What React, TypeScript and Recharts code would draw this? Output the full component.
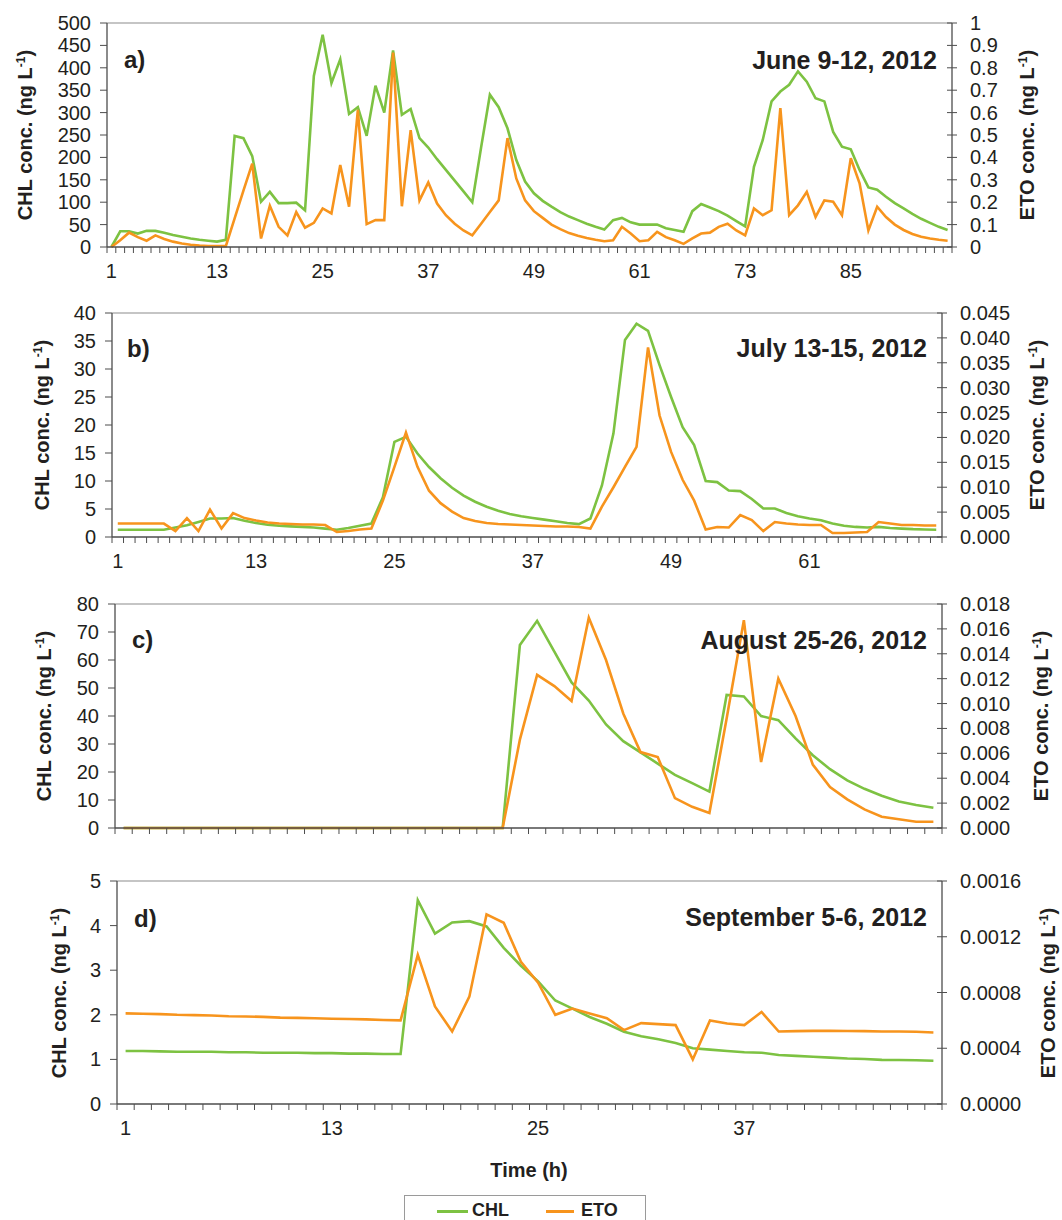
import React from "react"
import { ComposedChart, Line, XAxis, YAxis, ReferenceLine } from "recharts"

// ─── Colours / fonts ──────────────────────────────────────────────────────────
const GREEN = "#7dc242"
const ORANGE = "#f7941d"
const AXIS = "#4d4d4d"
const FRAME = "#8c8c8c"
const INK = "#231f20"
const FONT = '"Liberation Sans", Arial, Helvetica, sans-serif'

// ─── a) June 9-12, 2012 (96 h) ────────────────────────────────────────────────
const A_CHL = [
  0, 35, 35, 30, 36, 36, 32, 27, 23, 19,
  16, 14, 12, 16, 248, 243, 203, 101, 123, 98,
  98, 99, 82, 382, 474, 366, 419, 297, 312, 248,
  360, 300, 439, 295, 308, 243, 222, 196, 172, 148,
  124, 100, 222, 340, 312, 265, 194, 146, 120, 103,
  90, 78, 68, 60, 52, 45, 39, 60, 65, 55,
  50, 50, 50, 42, 38, 34, 80, 96, 88, 80,
  70, 58, 46, 179, 239, 325, 347, 362, 392, 369,
  332, 325, 257, 224, 218, 172, 133, 128, 112, 98,
  86, 74, 63, 54, 45, 38,
]
const A_ETO = [
  0, 0.03, 0.064, 0.044, 0.028, 0.052, 0.036, 0.024, 0.016, 0.01,
  0.006, 0.004, 0.004, 0.004, 0.128, 0.252, 0.372, 0.038, 0.184, 0.09,
  0.052, 0.156, 0.086, 0.108, 0.172, 0.15, 0.366, 0.18, 0.612, 0.102,
  0.12, 0.12, 0.868, 0.182, 0.522, 0.208, 0.288, 0.194, 0.142, 0.104,
  0.074, 0.052, 0.104, 0.156, 0.208, 0.486, 0.306, 0.208, 0.16, 0.13,
  0.1, 0.08, 0.062, 0.05, 0.04, 0.032, 0.026, 0.03, 0.09, 0.06,
  0.026, 0.03, 0.068, 0.044, 0.03, 0.014, 0.038, 0.06, 0.064, 0.09,
  0.104, 0.074, 0.052, 0.172, 0.142, 0.164, 0.62, 0.142, 0.186, 0.246,
  0.134, 0.208, 0.202, 0.142, 0.396, 0.284, 0.074, 0.18, 0.134, 0.1,
  0.076, 0.058, 0.046, 0.038, 0.032, 0.028,
]
const A_L_LABELS = ["0", "50", "100", "150", "200", "250", "300", "350", "400", "450", "500"]
const A_R_LABELS = ["0", "0.1", "0.2", "0.3", "0.4", "0.5", "0.6", "0.7", "0.8", "0.9", "1"]
const A_X_LABELS = [1, 13, 25, 37, 49, 61, 73, 85]

// ─── b) July 13-15, 2012 (72 h) ───────────────────────────────────────────────
const B_CHL = [
  1.3, 1.3, 1.3, 1.3, 1.3, 1.7, 2.1, 2.7, 3.3, 3.3,
  3.4, 2.9, 2.5, 2.2, 2.0, 1.9, 1.8, 1.7, 1.5, 1.3,
  1.6, 2.0, 2.4, 7.1, 17, 17.9, 14.9, 12.5, 10.5, 8.8,
  7.4, 6.3, 5.4, 4.7, 4.1, 3.7, 3.4, 3.1, 2.8, 2.5,
  2.3, 3.3, 9.2, 18.5, 35.2, 38.1, 36.8, 30.7, 25, 19.6,
  16.4, 10, 9.8, 8.3, 8.2, 6.8, 5.1, 5.1, 4.3, 3.7,
  3.3, 3.0, 2.4, 2.0, 1.8, 1.7, 1.8, 1.6, 1.5, 1.4,
  1.35, 1.3,
]
const B_ETO = [
  0.0027, 0.0027, 0.0027, 0.0027, 0.0027, 0.0012, 0.0038, 0.0012, 0.0055, 0.0017,
  0.0048, 0.0038, 0.0033, 0.0029, 0.0027, 0.0026, 0.0025, 0.0025, 0.0024, 0.001,
  0.0012, 0.0015, 0.0017, 0.0073, 0.0141, 0.021, 0.0141, 0.0093, 0.0068, 0.0051,
  0.0038, 0.0032, 0.0028, 0.0026, 0.0025, 0.0024, 0.0023, 0.0022, 0.0021, 0.0021,
  0.002, 0.0017, 0.0061, 0.01, 0.0141, 0.0181, 0.0381, 0.0244, 0.0171, 0.0115,
  0.0073, 0.0015, 0.002, 0.0019, 0.0044, 0.0034, 0.0012, 0.003, 0.0027, 0.0025,
  0.0024, 0.0024, 0.0008, 0.0008, 0.0009, 0.001, 0.003, 0.0027, 0.0024, 0.0024,
  0.0023, 0.0023,
]
const B_L_LABELS = ["0", "5", "10", "15", "20", "25", "30", "35", "40"]
const B_R_LABELS = ["0.000", "0.005", "0.010", "0.015", "0.020", "0.025", "0.030", "0.035", "0.040", "0.045"]
const B_X_LABELS = [1, 13, 25, 37, 49, 61]

// ─── c) August 25-26, 2012 (48 h) ─────────────────────────────────────────────
const C_CHL = [
  0, 0, 0, 0, 0, 0, 0, 0, 0, 0,
  0, 0, 0, 0, 0, 0, 0, 0, 0, 0,
  0, 0, 0, 65.4, 74, 63, 52, 45.5, 37, 31,
  27, 23, 19, 16, 13, 47.5, 47, 40, 38.5, 32,
  26, 21, 17, 14, 11.5, 9.5, 8.2, 7.2,
]
const C_ETO = [
  0, 0, 0, 0, 0, 0, 0, 0, 0, 0,
  0, 0, 0, 0, 0, 0, 0, 0, 0, 0,
  0, 0, 0, 0.0071, 0.0123, 0.0114, 0.0102, 0.0169, 0.0135, 0.0092,
  0.0061, 0.0057, 0.0024, 0.0017, 0.0012, 0.0088, 0.0167, 0.0053, 0.012, 0.009,
  0.0051, 0.0033, 0.0023, 0.0015, 0.0009, 0.0007, 0.0005, 0.0005,
]
const C_L_LABELS = ["0", "10", "20", "30", "40", "50", "60", "70", "80"]
const C_R_LABELS = ["0.000", "0.002", "0.004", "0.006", "0.008", "0.010", "0.012", "0.014", "0.016", "0.018"]
const C_X_LABELS: number[] = []

// ─── d) September 5-6, 2012 (48 h) ────────────────────────────────────────────
const D_CHL = [
  1.19, 1.19, 1.18, 1.17, 1.17, 1.17, 1.16, 1.16, 1.15, 1.15,
  1.15, 1.14, 1.14, 1.13, 1.13, 1.12, 1.12, 4.57, 3.82, 4.07,
  4.1, 3.98, 3.5, 3.1, 2.75, 2.32, 2.14, 1.95, 1.8, 1.62,
  1.52, 1.45, 1.37, 1.25, 1.22, 1.19, 1.16, 1.15, 1.1, 1.08,
  1.06, 1.04, 1.02, 1.01, 0.99, 0.985, 0.98, 0.97,
]
const D_ETO = [
  0.00065, 0.000648, 0.000645, 0.00064, 0.000638, 0.000635, 0.00063, 0.000628, 0.000625, 0.00062,
  0.000618, 0.000615, 0.000612, 0.00061, 0.000607, 0.000603, 0.0006, 0.00107, 0.0007, 0.00052,
  0.00077, 0.00136, 0.0013, 0.00102, 0.00087, 0.00064, 0.000685, 0.00065, 0.000615, 0.00053,
  0.00058, 0.000573, 0.000566, 0.00032, 0.0006, 0.000578, 0.000566, 0.00066, 0.00052, 0.000523,
  0.000525, 0.000525, 0.000524, 0.000523, 0.00052, 0.00052, 0.000518, 0.000513,
]
const D_L_LABELS = ["0", "1", "2", "3", "4", "5"]
const D_R_LABELS = ["0.0000", "0.0004", "0.0008", "0.0012", "0.0016"]
const D_X_LABELS = [1, 13, 25, 37]

// ─── Panel layout (page px) ───────────────────────────────────────────────────
const PANELS = [
  { tag: "a)", title: "June 9-12, 2012", chl: A_CHL, eto: A_ETO, lLab: A_L_LABELS, rLab: A_R_LABELS, xLab: A_X_LABELS,
    top: 0, plotTop: 23, plotBottom: 247, left: 107, right: 952, lTitleX: 25, rTitleX: 1027, tagX: 124, tagY: 60, titleY: 60 },
  { tag: "b)", title: "July 13-15, 2012", chl: B_CHL, eto: B_ETO, lLab: B_L_LABELS, rLab: B_R_LABELS, xLab: B_X_LABELS,
    top: 290, plotTop: 23, plotBottom: 247, left: 112, right: 942, lTitleX: 42, rTitleX: 1037, tagX: 127, tagY: 59, titleY: 58 },
  { tag: "c)", title: "August 25-26, 2012", chl: C_CHL, eto: C_ETO, lLab: C_L_LABELS, rLab: C_R_LABELS, xLab: C_X_LABELS,
    top: 580, plotTop: 24, plotBottom: 248, left: 115, right: 942, lTitleX: 44, rTitleX: 1041, tagX: 132, tagY: 60, titleY: 60 },
  { tag: "d)", title: "September 5-6, 2012", chl: D_CHL, eto: D_ETO, lLab: D_L_LABELS, rLab: D_R_LABELS, xLab: D_X_LABELS,
    top: 858, plotTop: 23, plotBottom: 246, left: 117, right: 942, lTitleX: 59, rTitleX: 1048, tagX: 134, tagY: 61, titleY: 59 },
]

const W = 1062
const H = 290
const AXW = 60
const XH = 30

function findLabel(labels: string[], v: number) {
  const l = labels.find((s) => Math.abs(Number(s) - v) < 1e-12)
  return l ?? ""
}

function PanelChart({ p }: { p: (typeof PANELS)[number] }) {
  const n = p.chl.length
  const data = p.chl.map((v, i) => ({ h: i + 1, chl: v, eto: p.eto[i] }))
  // tick marks sit between hours, labels on the hours
  const bounds: number[] = []
  for (let i = 0; i <= n; i++) bounds.push(i + 0.5)
  const xTicks = [...bounds, ...p.xLab]
  const lTicks = p.lLab.map(Number)
  const rTicks = p.rLab.map(Number)
  const lMax = lTicks[lTicks.length - 1]
  const rMax = rTicks[rTicks.length - 1]
  const cy = (p.plotTop + p.plotBottom) / 2

  const xTick = (props: any) => {
    const { x, y, payload } = props
    const v = payload.value
    if (Number.isInteger(v)) {
      return (
        <text x={x} y={y + 24} textAnchor="middle" dominantBaseline="central"
          fontSize={20} fill={INK} fontFamily={FONT}>{v}</text>
      )
    }
    return <line x1={x} x2={x} y1={y} y2={y + 6} stroke={AXIS} strokeWidth={1} />
  }
  const lTick = (props: any) => {
    const { x, y, payload } = props
    return (
      <g>
        <line x1={x - 7} x2={x} y1={y} y2={y} stroke={AXIS} strokeWidth={1} />
        <text x={x - 16} y={y} textAnchor="end" dominantBaseline="central"
          fontSize={20} fill={INK} fontFamily={FONT}>{findLabel(p.lLab, payload.value)}</text>
      </g>
    )
  }
  const rTick = (props: any) => {
    const { x, y, payload } = props
    return (
      <g>
        <line x1={x - 5} x2={x + 5} y1={y} y2={y} stroke={AXIS} strokeWidth={1} />
        <text x={x + 18} y={y} textAnchor="start" dominantBaseline="central"
          fontSize={20} fill={INK} fontFamily={FONT}>{findLabel(p.rLab, payload.value)}</text>
      </g>
    )
  }

  return (
    <div style={{ position: "absolute", left: 0, top: p.top, width: W, height: H }}>
      <ComposedChart
        width={W}
        height={H}
        data={data}
        margin={{ top: p.plotTop, bottom: H - p.plotBottom - XH, left: p.left - AXW, right: W - p.right - AXW }}
      >
        <XAxis dataKey="h" type="number" domain={[0.5, n + 0.5]} ticks={xTicks} interval={0}
          height={XH} tickSize={0} tickMargin={0} tickLine={false} tick={xTick}
          axisLine={{ stroke: AXIS, strokeWidth: 1.3 }} allowDataOverflow />
        <YAxis yAxisId="l" domain={[0, lMax]} ticks={lTicks} interval={0} width={AXW}
          tickSize={0} tickMargin={0} tickLine={false} tick={lTick}
          axisLine={{ stroke: AXIS, strokeWidth: 1.3 }} />
        <YAxis yAxisId="r" orientation="right" domain={[0, rMax]} ticks={rTicks} interval={0} width={AXW}
          tickSize={0} tickMargin={0} tickLine={false} tick={rTick}
          axisLine={{ stroke: AXIS, strokeWidth: 1.3 }} />
        <ReferenceLine yAxisId="l" y={lMax} stroke={FRAME} strokeWidth={1.2} />
        <Line yAxisId="l" type="linear" dataKey="chl" stroke={GREEN} strokeWidth={2.6}
          dot={false} isAnimationActive={false} />
        <Line yAxisId="r" type="linear" dataKey="eto" stroke={ORANGE} strokeWidth={2.6}
          dot={false} isAnimationActive={false} />
      </ComposedChart>

      {/* panel tag + date */}
      <div style={{ position: "absolute", left: p.tagX, top: p.tagY, transform: "translateY(-50%)",
        fontFamily: FONT, fontWeight: 700, fontSize: 24, color: INK, lineHeight: 1 }}>{p.tag}</div>
      <div style={{ position: "absolute", right: W - (p.right - 15), top: p.titleY, transform: "translateY(-50%)",
        fontFamily: FONT, fontWeight: 700, fontSize: 25, color: INK, lineHeight: 1, whiteSpace: "nowrap" }}>{p.title}</div>

      {/* axis titles */}
      <div style={{ position: "absolute", left: p.lTitleX, top: cy, transform: "translate(-50%, -50%) rotate(-90deg)",
        fontFamily: FONT, fontWeight: 700, fontSize: 20, color: INK, lineHeight: 1, whiteSpace: "nowrap" }}>
        CHL conc. (ng L<sup style={{ fontSize: 12 }}>-1</sup>)
      </div>
      <div style={{ position: "absolute", left: p.rTitleX, top: cy, transform: "translate(-50%, -50%) rotate(-90deg)",
        fontFamily: FONT, fontWeight: 700, fontSize: 20, color: INK, lineHeight: 1, whiteSpace: "nowrap" }}>
        ETO conc. (ng L<sup style={{ fontSize: 12 }}>-1</sup>)
      </div>
    </div>
  )
}

export default function App() {
  return (
    <div style={{ position: "absolute", left: 0, top: 0, width: W, height: 1220, background: "#fff", overflow: "hidden" }}>
      {PANELS.map((p) => <PanelChart key={p.tag} p={p} />)}

      <div style={{ position: "absolute", left: 529, top: 1170, transform: "translate(-50%, -50%)",
        fontFamily: FONT, fontWeight: 700, fontSize: 20, color: INK, whiteSpace: "nowrap" }}>Time (h)</div>

      {/* legend */}
      <div style={{ position: "absolute", left: 404, top: 1195, width: 242, height: 40,
        border: "1px solid #9a9a9a", boxSizing: "border-box", fontFamily: FONT, fontWeight: 700, fontSize: 18, color: INK }}>
        <div style={{ position: "absolute", left: 32, top: 14, width: 31, height: 2.5, background: GREEN }} />
        <div style={{ position: "absolute", left: 67, top: 5, lineHeight: 1 }}>CHL</div>
        <div style={{ position: "absolute", left: 141, top: 14, width: 28, height: 2.5, background: ORANGE }} />
        <div style={{ position: "absolute", left: 176, top: 5, lineHeight: 1 }}>ETO</div>
      </div>
    </div>
  )
}
